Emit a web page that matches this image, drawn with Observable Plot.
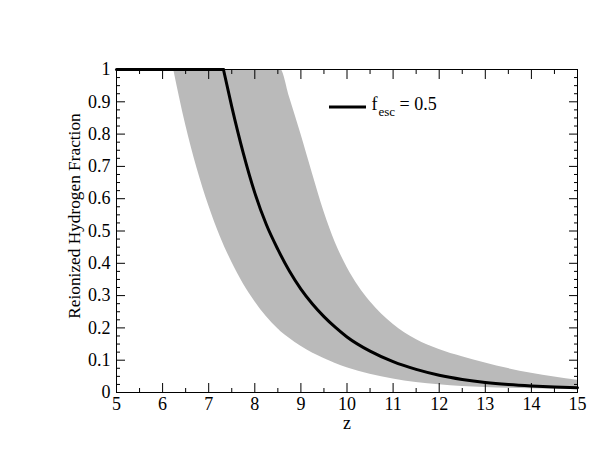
<!DOCTYPE html>
<html><head><meta charset="utf-8">
<script src="https://cdn.jsdelivr.net/npm/d3@7"></script>
<script src="https://cdn.jsdelivr.net/npm/@observablehq/plot@0.6"></script>
<style>body{margin:0;background:#fff;}</style>
</head><body><div id="chart"></div>
<script>
// Tick values
const xMajor = [5, 6, 7, 8, 9, 10, 11, 12, 13, 14, 15];
const xMinor = [5.5, 6.5, 7.5, 8.5, 9.5, 10.5, 11.5, 12.5, 13.5, 14.5];
const yMajor = [0, 0.1, 0.2, 0.3, 0.4, 0.5, 0.6, 0.7, 0.8, 0.9, 1];
const yMinor = [0.025,0.05,0.075,0.125,0.15,0.175,0.225,0.25,0.275,0.325,0.35,0.375,0.425,0.45,0.475,0.525,0.55,0.575,0.625,0.65,0.675,0.725,0.75,0.775,0.825,0.85,0.875,0.925,0.95,0.975];

// Shaded band (range of reionized fraction)
const bandZ    = [6.24, 6.5, 6.75, 7.0, 7.25, 7.5, 7.75, 8.0, 8.25, 8.5, 8.56, 8.75, 9.0, 9.25, 9.5, 9.75, 10.0, 10.25, 10.5, 11.0, 11.5, 12.0, 12.5, 13.0, 13.5, 14.0, 14.5, 15.0];
const bandLow  = [1.0, 0.829, 0.693, 0.579, 0.483, 0.404, 0.337, 0.282, 0.235, 0.197, 0.189, 0.168, 0.143, 0.122, 0.105, 0.0894, 0.0764, 0.0657, 0.0566, 0.0419, 0.031, 0.0242, 0.0188, 0.0158, 0.0133, 0.0117, 0.0103, 0.0091];
const bandHigh = [1.0, 1.0, 1.0, 1.0, 1.0, 1.0, 1.0, 1.0, 1.0, 1.0, 1.0, 0.9155, 0.8, 0.678, 0.5605, 0.463, 0.388, 0.329, 0.2815, 0.2115, 0.164, 0.133, 0.1105, 0.0915, 0.074, 0.0595, 0.048, 0.038];

// Central curve, f_esc = 0.5
const flatZ = [5, 7.32];
const flatV = [1, 1];
const midZ = [7.32, 7.5, 7.75, 8.0, 8.25, 8.5, 8.75, 9.0, 9.25, 9.5, 9.75, 10.0, 10.5, 11.0, 11.5, 12.0, 12.5, 13.0, 13.5, 14.0, 14.5, 15.0];
const midV = [1.0, 0.885, 0.741, 0.618, 0.52, 0.443, 0.376, 0.32, 0.274, 0.235, 0.2015, 0.172, 0.128, 0.0955, 0.0715, 0.0535, 0.0405, 0.031, 0.0245, 0.02, 0.0168, 0.0145];

const xLabel = "z";
const yLabel = "Reionized Hydrogen Fraction";
const legendLabel = {main: "f", sub: "esc", rest: " = 0.5"};

const band = bandZ.map((z, i) => ({z, lo: bandLow[i], hi: bandHigh[i]}));
const line = [
  ...flatZ.map((z, i) => ({z, v: flatV[i], seg: "flat"})),
  ...midZ.map((z, i) => ({z, v: midV[i], seg: "decay"}))
];

const font = "'Liberation Serif', 'Times New Roman', serif";
const blank = () => "";

const svg = Plot.plot({
  width: 598, height: 462,
  marginLeft: 116, marginRight: 21, marginTop: 69, marginBottom: 70,
  style: {fontFamily: font, fontSize: "18px", background: "#fff", color: "#000", overflow: "visible"},
  x: {domain: [5, 15]},
  y: {domain: [0, 1]},
  marks: [
    Plot.areaY(band, {x: "z", y1: "lo", y2: "hi", fill: "#bababa", curve: "monotone-x"}),
    Plot.frame({stroke: "#000", strokeWidth: 1}),
    Plot.line(line, {x: "z", y: "v", z: "seg", stroke: "#000", strokeWidth: 3, curve: "monotone-x"}),
    Plot.axisX(xMajor, {anchor: "bottom", tickSize: -9, tickPadding: 14, label: null, tickFormat: d => String(d), fontSize: 18}),
    Plot.axisX(xMinor, {anchor: "bottom", tickSize: -4, label: null, tickFormat: blank}),
    Plot.axisX(xMajor, {anchor: "top", tickSize: -9, label: null, tickFormat: blank}),
    Plot.axisX(xMinor, {anchor: "top", tickSize: -4, label: null, tickFormat: blank}),
    Plot.axisY(yMajor, {anchor: "left", tickSize: -9, tickPadding: 15, label: null, tickFormat: d => String(d), fontSize: 18}),
    Plot.axisY(yMinor, {anchor: "left", tickSize: -4, label: null, tickFormat: blank}),
    Plot.axisY(yMajor, {anchor: "right", tickSize: -9, label: null, tickFormat: blank}),
    Plot.axisY(yMinor, {anchor: "right", tickSize: -4, label: null, tickFormat: blank}),
    Plot.text([xLabel], {frameAnchor: "bottom", text: d => d, dy: 31, fontSize: 18, lineAnchor: "middle", textAnchor: "middle"}),
    Plot.text([yLabel], {frameAnchor: "left", text: d => d, rotate: -90, dx: -42.5, dy: -15, fontSize: 17.3, lineAnchor: "middle", textAnchor: "middle"})
  ]
});

// Legend
const g = d3.select(svg).append("g").attr("text-anchor", "start");
g.append("line").attr("x1", 329).attr("x2", 366).attr("y1", 107).attr("y2", 107)
  .attr("stroke", "#000").attr("stroke-width", 3);
const t = g.append("text").attr("x", 371.5).attr("y", 110).attr("text-anchor", "start")
  .attr("font-family", font).attr("font-size", 18).attr("fill", "#000");
t.append("tspan").text(legendLabel.main);
t.append("tspan").attr("dx", 1).attr("dy", 6).attr("font-size", 13).text(legendLabel.sub);
t.append("tspan").attr("dy", -6).text(legendLabel.rest);

document.getElementById("chart").appendChild(svg);
</script>
</body></html>
